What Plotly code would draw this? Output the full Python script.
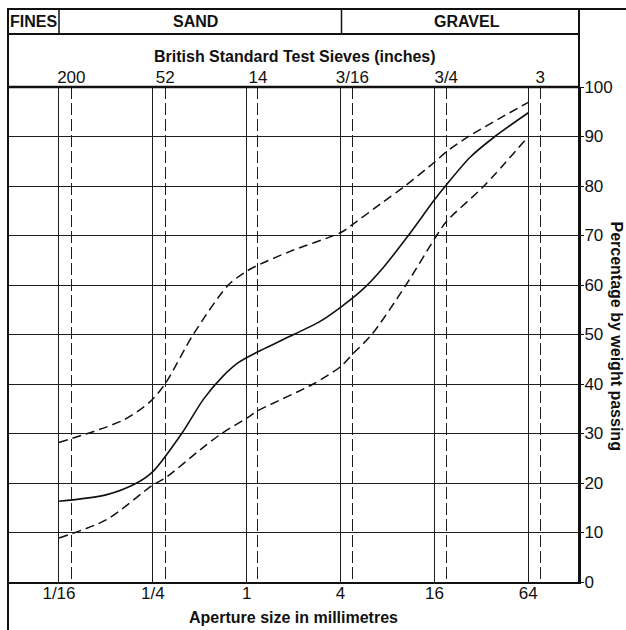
import plotly.graph_objects as go

# Aperture sizes (mm) on the bottom scale and their labels
aperture_mm = [0.0625, 0.25, 1, 4, 16, 64]
aperture_labels = ["1/16", "1/4", "1", "4", "16", "64"]

# British Standard test sieves: equivalent aperture (mm) and labels
sieve_mm = [0.075, 0.300, 1.18, 4.76, 19.05, 76.2]
sieve_labels = ["200", "52", "14", "3/16", "3/4", "3"]

# Grading envelope: upper limit, lower limit, and the sample grading
upper_mm = [0.0625, 0.1616, 0.2396, 0.299, 0.454, 0.762, 1.0, 1.18, 1.9, 4.07, 4.76,
            7.52, 10.36, 16, 19.05, 27.1, 64]
upper_pct = [28.2, 32.7, 36.4, 40.0, 50.0, 60.0, 62.8, 64.0, 66.8, 70.7, 72.2,
             76.8, 80.0, 84.8, 86.9, 90.2, 96.9]

lower_mm = [0.0625, 0.1264, 0.25, 0.300, 0.502, 0.691, 1.0, 1.18, 2.674, 4.0, 4.76,
            6.34, 10.51, 16, 19.05, 33.3, 64]
lower_pct = [8.9, 12.6, 19.6, 21.0, 26.7, 30.0, 33.1, 34.6, 40.0, 43.5, 46.0,
             50.0, 60.0, 69.3, 72.8, 80.0, 90.0]

sample_mm = [0.0625, 0.125, 0.197, 0.25, 0.383, 0.53, 0.70, 0.883, 1.18, 2.0, 2.9,
             4.0, 5.5, 7.5, 10.88, 16, 19.05, 27.1, 39.1, 64]
sample_pct = [16.3, 17.6, 20.0, 22.3, 30.0, 37.0, 41.5, 44.3, 46.5, 50.0, 52.5,
              55.5, 59.0, 63.5, 70.0, 77.2, 80.2, 85.8, 90.0, 94.8]

pct_ticks = list(range(0, 101, 10))

W, H = 626, 630
PL, PR, PT, PB = 8, 579, 87, 582  # plot area edges in pixels
X_RANGE = [-1.5312, 2.1314]       # log10 of mm
FONT = "Liberation Sans"
INK = "#111111"
GRID = "#1e1e1e"


def fx(px):
    return (px - PL) / (PR - PL)


def fy(py):
    return (PB - py) / (PB - PT)


fig = go.Figure()

dash_curve = "9px,5px"
fig.add_trace(go.Scatter(x=upper_mm, y=upper_pct, mode="lines", xaxis="x2",
                         line=dict(color=INK, width=1.5, dash=dash_curve, shape="spline", smoothing=0.8),
                         hoverinfo="skip"))
fig.add_trace(go.Scatter(x=lower_mm, y=lower_pct, mode="lines",
                         line=dict(color=INK, width=1.5, dash=dash_curve, shape="spline", smoothing=0.8),
                         hoverinfo="skip"))
fig.add_trace(go.Scatter(x=sample_mm, y=sample_pct, mode="lines",
                         line=dict(color=INK, width=1.6, shape="spline", smoothing=0.8),
                         hoverinfo="skip"))

line_style = dict(color=INK, width=2)
shapes = [
    # outer frame: top rule and left rule
    dict(type="line", xref="paper", yref="paper", x0=fx(7), x1=fx(626), y0=fy(9), y1=fy(9), line=line_style),
    dict(type="line", xref="paper", yref="paper", x0=0, x1=0, y0=fy(630), y1=fy(9), line=line_style),
    # right rule from the top of the frame down to the plot bottom
    dict(type="line", xref="paper", yref="paper", x0=1, x1=1, y0=0, y1=fy(9), line=line_style),
    # bottom of the soil-class row
    dict(type="line", xref="paper", yref="paper", x0=0, x1=1, y0=fy(34), y1=fy(34), line=line_style),
    # dividers FINES | SAND | GRAVEL
    dict(type="line", xref="paper", yref="paper", x0=fx(59), x1=fx(59), y0=fy(34), y1=fy(9), line=dict(color=INK, width=1.5)),
    dict(type="line", xref="paper", yref="paper", x0=fx(341.5), x1=fx(341.5), y0=fy(34), y1=fy(9), line=dict(color=INK, width=1.5)),
    # heavy top edge of the grid
    dict(type="line", xref="paper", yref="paper", x0=0, x1=1, y0=1, y1=1, line=dict(color=INK, width=2.5)),
]

bold = dict(family=FONT, size=16, color=INK, weight="bold")
annotations = [
    dict(text="FINES", x=fx(33.5), y=fy(21.5)),
    dict(text="SAND", x=fx(196), y=fy(21.5)),
    dict(text="GRAVEL", x=fx(467), y=fy(21.5)),
    dict(text="British Standard Test Sieves (inches)", x=fx(295), y=fy(56)),
    dict(text="Aperture size in millimetres", x=fx(293), y=fy(617)),
    dict(text="Percentage by weight passing", x=fx(616.5), y=fy(336), textangle=90,
         borderpad=0),
]
for a in annotations:
    a.update(xref="paper", yref="paper", showarrow=False, font=bold,
             xanchor="center", yanchor="middle")

tick_font = dict(family=FONT, size=17, color=INK)

fig.update_layout(
    width=W, height=H,
    margin=dict(l=PL, r=W - PR, t=PT, b=H - PB, pad=0),
    paper_bgcolor="white", plot_bgcolor="white",
    showlegend=False,
    shapes=shapes,
    annotations=annotations,
    xaxis=dict(type="log", range=X_RANGE, tickmode="array",
               tickvals=aperture_mm, ticktext=aperture_labels,
               showgrid=True, gridcolor=GRID, gridwidth=1.3,
               ticks="", ticklen=0, showline=True, linecolor=INK, linewidth=2,
               zeroline=False, tickfont=tick_font, ticklabelstandoff=-5),
    xaxis2=dict(type="log", range=X_RANGE, overlaying="x", side="top",
                tickmode="array", tickvals=sieve_mm, ticktext=sieve_labels,
                showgrid=True, gridcolor=GRID, gridwidth=1.3, griddash="12px,4px",
                ticks="", ticklen=0, showline=False, zeroline=False, tickfont=tick_font,
                ticklabelstandoff=0),
    yaxis=dict(range=[0, 100], side="right", tickmode="array", tickvals=pct_ticks,
               showgrid=True, gridcolor=GRID, gridwidth=1.2,
               ticks="outside", ticklen=3, tickcolor=INK, tickwidth=1.2,
               showline=True, linecolor=INK, linewidth=2, zeroline=False,
               tickfont=tick_font, ticklabelstandoff=-3),
)

fig.write_html("out.html")
